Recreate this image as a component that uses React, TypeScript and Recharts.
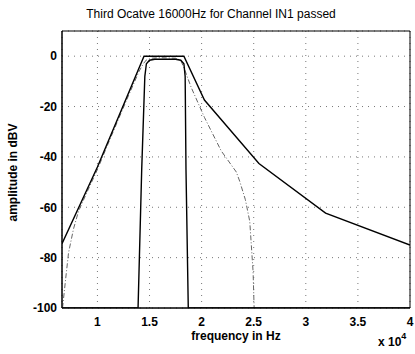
import { LineChart, Line, XAxis, YAxis, CartesianGrid, ReferenceArea, Label } from "recharts";

// upper tolerance mask (solid)
const upperFreq = [6600, 10000, 14470, 18300, 20270, 25500, 31900, 40000];
const upperDb = [-74.5, -44, 0, 0, -17.4, -42.6, -62.3, -75];

// lower tolerance mask (solid, inner)
const lowerFreq = [6600, 13900, 14250, 14550, 14700, 15000, 15500, 17500, 18000, 18300, 18420, 18500, 18720, 40000];
const lowerDb = [-100, -100, -45, -8, -3, -1.6, -1.2, -1.2, -1.6, -3, -8, -45, -100, -100];

// measured filter response (dash-dot)
const respFreq = [6650, 6910, 7230, 7710, 8190, 9000, 10000, 11000, 12000, 13000, 14000, 14400, 14700, 15200, 16000, 17500, 18000, 18340, 18990, 20270, 21880, 23330, 23650, 24200, 24620, 24940, 25040];
const respDb = [-100, -90, -78, -68.5, -61.5, -54, -45, -35, -25.2, -15.5, -6, -3, -1.5, -0.8, -0.6, -0.8, -1.6, -5, -12.3, -24.3, -37.6, -46, -49.6, -57, -65.6, -85.6, -100];

const xTicks = [10000, 15000, 20000, 25000, 30000, 35000, 40000];
const yTicks = [-100, -80, -60, -40, -20, 0];

const zip = (f: number[], d: number[]) => f.map((v, i) => ({ f: v, db: d[i] }));
const upper = zip(upperFreq, upperDb);
const lower = zip(lowerFreq, lowerDb);
const resp = zip(respFreq, respDb);

const font = '"Liberation Sans", Arial, sans-serif';
const tickStyle = { fill: "#000", fontSize: 12, fontWeight: 700, fontFamily: font };

export default function App() {
  return (
    <div style={{ position: "absolute", left: 0, top: 0, width: 415, height: 354, background: "#fff", fontFamily: font }}>
      <div style={{ position: "absolute", left: 0, width: 422, top: 7, textAlign: "center", fontSize: 12, color: "#000" }}>
        Third Ocatve 16000Hz for Channel IN1 passed
      </div>
      <LineChart width={415} height={354} margin={{ top: 31, right: 5, bottom: 0, left: 0 }}>
        <CartesianGrid stroke="#777" strokeDasharray="1 5" />
        <XAxis
          dataKey="f"
          type="number"
          domain={[6600, 40000]}
          ticks={xTicks}
          allowDataOverflow
          tickFormatter={(v: number) => `${v / 10000}`}
          tickSize={0}
          tickMargin={9}
          height={46}
          axisLine={{ stroke: "#000" }}
          tick={tickStyle}
        >
          <Label value="frequency in Hz" position="insideBottom" offset={14} style={{ fill: "#000", fontSize: 12, fontWeight: 700, fontFamily: font }} />
        </XAxis>
        <YAxis
          type="number"
          domain={[-100, 10]}
          ticks={yTicks}
          allowDataOverflow
          tickSize={0}
          tickMargin={5}
          width={62}
          axisLine={{ stroke: "#000" }}
          tick={tickStyle}
        >
          <Label value="amplitude in dBV" angle={-90} position="insideLeft" offset={13} dy={3} style={{ fill: "#000", fontSize: 12, fontWeight: 700, fontFamily: font, textAnchor: "middle" }} />
        </YAxis>
        <ReferenceArea x1={6600} x2={40000} y1={-100} y2={10} fill="none" stroke="#000" strokeWidth={1} />
        <Line data={resp} dataKey="db" type="linear" stroke="#666" strokeWidth={1} strokeDasharray="5 2 1 2" dot={false} isAnimationActive={false} />
        <Line data={lower} dataKey="db" type="linear" stroke="#000" strokeWidth={1.4} dot={false} isAnimationActive={false} />
        <Line data={upper} dataKey="db" type="linear" stroke="#000" strokeWidth={1.4} dot={false} isAnimationActive={false} />
      </LineChart>
      <div style={{ position: "absolute", left: 378, top: 333, fontSize: 12, fontWeight: 700, color: "#000" }}>
        x 10<sup style={{ fontSize: 9, position: "relative", top: -2 }}>4</sup>
      </div>
    </div>
  );
}
